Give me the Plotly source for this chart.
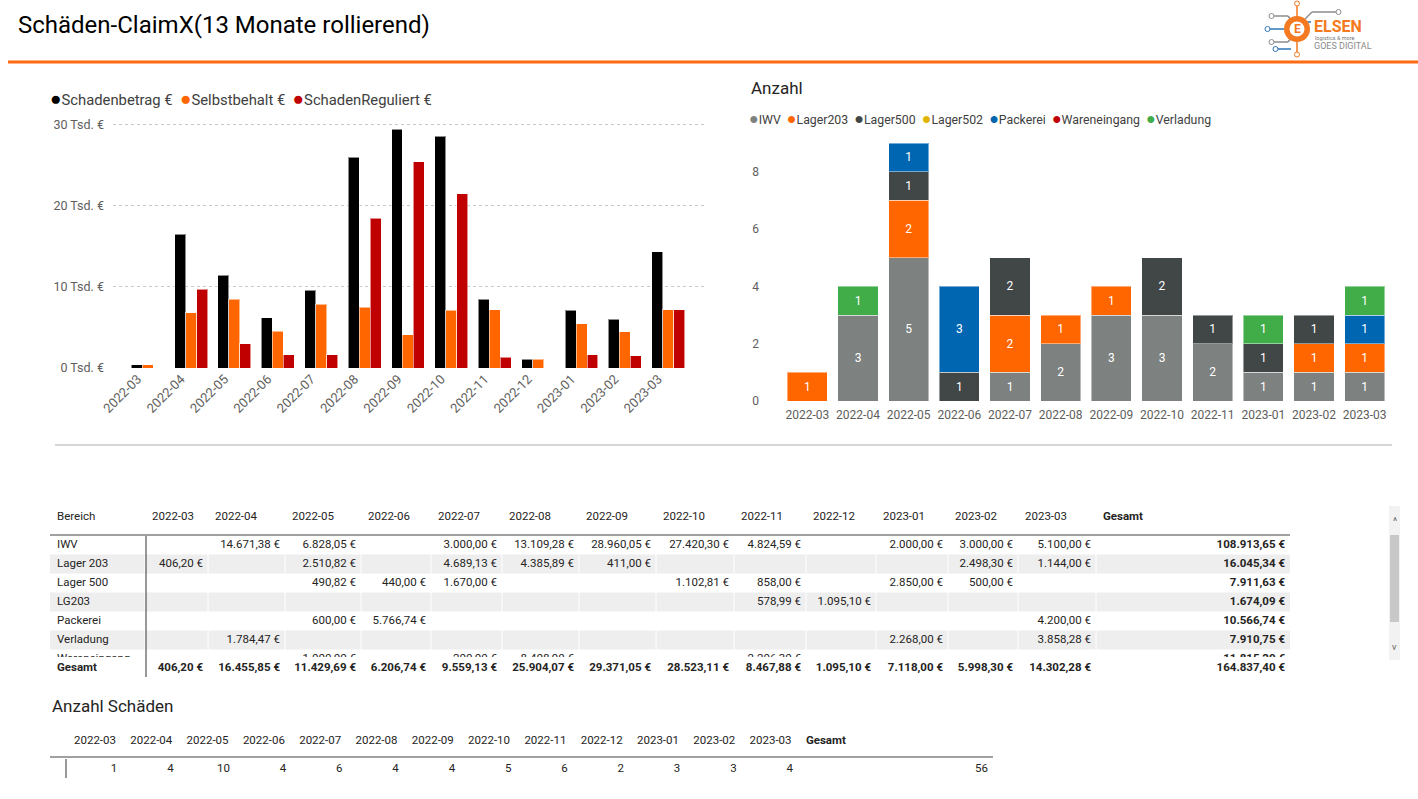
import plotly.graph_objects as go

# Seitengröße in Pixeln (Report-Seite)
W, H = 1418, 799


def X(px):
    # Pixel -> Papierkoordinate (horizontal)
    return px / W


def Y(py):
    # Pixel -> Papierkoordinate (vertikal, von oben gemessen)
    return 1 - py / H


# ---------------- Daten ----------------
monate = ["2022-03", "2022-04", "2022-05", "2022-06", "2022-07", "2022-08", "2022-09",
          "2022-10", "2022-11", "2022-12", "2023-01", "2023-02", "2023-03"]

# Balkendiagramm links (Euro)
schadenbetrag = [406.20, 16455.85, 11429.69, 6206.74, 9559.13, 25904.07, 29371.05,
                 28523.11, 8467.88, 1095.10, 7118.00, 5998.30, 14302.28]
selbstbehalt = [406.20, 6800, 8440, 4530, 7860, 7490, 4070,
                7080, 7160, 1095.10, 5470, 4490, 7160]
schaden_reguliert = [None, 9670, 2960, 1650, 1650, 18440, 25350,
                     21440, 1310, None, 1610, 1480, 7160]
serien_links = ["Schadenbetrag €", "Selbstbehalt €", "SchadenReguliert €"]
farben_links = ["#000000", "#FF6600", "#C00000"]
y_ticks_links = [0, 10000, 20000, 30000]
y_ticktext_links = ["0 Tsd. €", "10 Tsd. €", "20 Tsd. €", "30 Tsd. €"]

# Gestapeltes Diagramm rechts (Anzahl)
anzahl_monate = ["2022-03", "2022-04", "2022-05", "2022-06", "2022-07", "2022-08",
                 "2022-09", "2022-10", "2022-11", "2023-01", "2023-02", "2023-03"]
anz_iwv = [None, 3, 5, None, 1, 2, 3, 3, 2, 1, 1, 1]
anz_lager203 = [1, None, 2, None, 2, 1, 1, None, None, None, 1, 1]
anz_lager500 = [None, None, 1, 1, 2, None, None, 2, 1, 1, 1, None]
anz_lager502 = [None] * 12
anz_packerei = [None, None, 1, 3, None, None, None, None, None, None, None, 1]
anz_wareneingang = [None] * 12
anz_verladung = [None, 1, None, None, None, None, None, None, None, 1, None, 1]
serien_rechts = ["IWV", "Lager203", "Lager500", "Lager502", "Packerei", "Wareneingang", "Verladung"]
farben_rechts = ["#7D8180", "#FF6600", "#414646", "#E0B400", "#0066B2", "#C00000", "#41AD49"]
y_ticks_rechts = [0, 2, 4, 6, 8]

# Tabelle Schadenbeträge je Bereich
bereiche = ["IWV", "Lager 203", "Lager 500", "LG203", "Packerei", "Verladung", "Wareneingang"]
tab_iwv = [None, 14671.38, 6828.05, None, 3000.00, 13109.28, 28960.05, 27420.30, 4824.59,
           None, 2000.00, 3000.00, 5100.00]
tab_lager203 = [406.20, None, 2510.82, None, 4689.13, 4385.89, 411.00, None, None,
                None, None, 2498.30, 1144.00]
tab_lager500 = [None, None, 490.82, 440.00, 1670.00, None, None, 1102.81, 858.00,
                None, 2850.00, 500.00, None]
tab_lg203 = [None, None, None, None, None, None, None, None, 578.99,
             1095.10, None, None, None]
tab_packerei = [None, None, 600.00, 5766.74, None, None, None, None, None,
                None, None, None, 4200.00]
tab_verladung = [None, 1784.47, None, None, None, None, None, None, None,
                 None, 2268.00, None, 3858.28]
tab_wareneingang = [None, None, 1000.00, None, 200.00, 8408.90, None, None, 2206.30,
                    None, None, None, None]
zeilen_gesamt = [108913.65, 16045.34, 7911.63, 1674.09, 10566.74, 7910.75, 11815.20]
spalten_gesamt = [406.20, 16455.85, 11429.69, 6206.74, 9559.13, 25904.07, 29371.05,
                  28523.11, 8467.88, 1095.10, 7118.00, 5998.30, 14302.28]
gesamt_summe = 164837.40

# Tabelle Anzahl Schäden
anzahl_schaeden = [1, 4, 10, 4, 6, 4, 4, 5, 6, 2, 3, 3, 4]
anzahl_gesamt = 56


def eur(v):
    # deutsches Zahlenformat: 1.234,56 €
    if v is None:
        return ""
    s = f"{v:,.2f}".replace(",", "X").replace(".", ",").replace("X", ".")
    return s + " €"


def fett(s):
    return "<b>" + s + "</b>"


TXT = "#252423"
GRAU = "#605E5C"
FONT = "Roboto"

fig = go.Figure()

# ---------------- linkes Diagramm ----------------
for i, werte in enumerate([schadenbetrag, selbstbehalt, schaden_reguliert]):
    fig.add_trace(go.Bar(x=monate, y=werte, name=serien_links[i],
                         offsetgroup=str(i),
                         marker=dict(color=farben_links[i],
                                     line=dict(color="rgba(255,255,255,0.55)", width=1)),
                         showlegend=False, xaxis="x", yaxis="y"))

# ---------------- rechtes Diagramm ----------------
for i, werte in enumerate([anz_iwv, anz_lager203, anz_lager500, anz_lager502,
                           anz_packerei, anz_wareneingang, anz_verladung]):
    fig.add_trace(go.Bar(x=anzahl_monate, y=werte, name=serien_rechts[i],
                         offsetgroup="r", width=0.79,
                         marker=dict(color=farben_rechts[i],
                                     line=dict(color="rgba(255,255,255,0.45)", width=1)),
                         texttemplate="%{y}", textposition="inside",
                         insidetextanchor="middle", textangle=0,
                         textfont=dict(color="white", size=12, family=FONT),
                         showlegend=False, xaxis="x2", yaxis="y2"))

# ---------------- Tabelle Beträge (Textspuren auf eigenen Achsen) ----------------
# Spaltenkanten in Pixel ab linkem Tabellenrand, Zeilen in Zeileneinheiten
kanten = [0, 95, 158, 235, 311, 381, 452, 529, 606, 684, 756, 826, 898, 968, 1046, 1240]
PAD_L, PAD_R = 7, 5
zellfont = dict(family=FONT, size=11.5, color=TXT)
tab_zeilen = [tab_iwv, tab_lager203, tab_lager500, tab_lg203, tab_packerei,
              tab_verladung, tab_wareneingang]
n = len(bereiche)
zeilen_idx = list(range(n))


def text_spur(xs, ys, texte, pos, xa, ya):
    return go.Scatter(x=xs, y=ys, text=texte, mode="text", textposition=pos,
                      textfont=zellfont, cliponaxis=True, hoverinfo="skip",
                      showlegend=False, xaxis=xa, yaxis=ya)


# Kopfzeile (eigene y-Achse y5)
fig.add_trace(text_spur([kanten[j] + PAD_L for j in range(15)], [0] * 15,
                        ["Bereich"] + monate + [fett("Gesamt")], "middle right", "x3", "y5"))
# Zeilenbeschriftung
fig.add_trace(text_spur([kanten[0] + PAD_L] * n, zeilen_idx, bereiche, "middle right", "x3", "y3"))
# Monatswerte
for j in range(len(monate)):
    fig.add_trace(text_spur([kanten[j + 2] - PAD_R] * n, zeilen_idx,
                            [eur(z[j]) for z in tab_zeilen], "middle left", "x3", "y3"))
# Zeilensummen
fig.add_trace(text_spur([kanten[15] - PAD_R] * n, zeilen_idx,
                        [fett(eur(v)) for v in zeilen_gesamt], "middle left", "x3", "y3"))
# Summenzeile (eigene y-Achse y6)
fig.add_trace(text_spur([kanten[0] + PAD_L], [0], [fett("Gesamt")], "middle right", "x3", "y6"))
fig.add_trace(text_spur([kanten[j + 2] - PAD_R for j in range(14)], [0] * 14,
                        [fett(eur(v)) for v in spalten_gesamt + [gesamt_summe]],
                        "middle left", "x3", "y6"))

# ---------------- Tabelle Anzahl Schäden ----------------
kanten_anz = [0, 16] + [16 + 56.3 * (k + 1) for k in range(13)] + [943]
fig.add_trace(text_spur([kanten_anz[j + 1] + 8 for j in range(14)], [0] * 14,
                        monate + [fett("Gesamt")], "middle right", "x4", "y7"))
fig.add_trace(text_spur([kanten_anz[j + 2] - PAD_R for j in range(14)], [0] * 14,
                        [str(v) for v in anzahl_schaeden + [anzahl_gesamt]],
                        "middle left", "x4", "y4"))


def legende(namen, farben, groesse):
    teile = [f"<span style='color:{c};font-size:{groesse}px'>●</span>{nm}"
             for nm, c in zip(namen, farben)]
    return "\u00a0\u00a0".join(teile)


annos = [
    dict(text="Schäden-ClaimX(13 Monate rollierend)", x=X(16), y=Y(25),
         font=dict(size=24, color="#000000", family=FONT)),
    dict(text=legende(serien_links, farben_links, 19), x=X(48), y=Y(98),
         font=dict(size=14.8, color="#404040", family=FONT)),
    dict(text="Anzahl", x=X(749), y=Y(88), font=dict(size=17, color=TXT, family=FONT)),
    dict(text=legende(serien_rechts, farben_rechts, 16), x=X(747), y=Y(118),
         font=dict(size=12.3, color="#404040", family=FONT)),
    dict(text="Anzahl Schäden", x=X(50), y=Y(706), font=dict(size=17, color=TXT, family=FONT)),
    # Scrollbar-Pfeile
    dict(text="^", x=X(1394.5), y=Y(521), xanchor="center", font=dict(size=10, color="#666666")),
    dict(text="v", x=X(1394.5), y=Y(647), xanchor="center", font=dict(size=9, color="#666666")),
    # Logo-Texte
    dict(text="<b>E</b>", x=X(1297), y=Y(29), xanchor="center",
         font=dict(size=12, color="#F47920", family=FONT)),
    dict(text="<b>ELSEN</b>", x=X(1312), y=Y(27), font=dict(size=16, color="#F47920", family=FONT)),
    dict(text="logistics & more", x=X(1313), y=Y(38), font=dict(size=5.5, color="#777777", family=FONT)),
    dict(text="GOES DIGITAL", x=X(1312), y=Y(46), font=dict(size=9, color="#8A8A8A", family=FONT)),
]
for a in annos:
    a.setdefault("xanchor", "left")
    a.update(xref="paper", yref="paper", yanchor="middle", showarrow=False)


def linie(x0, y0, x1, y1, farbe, breite):
    return dict(type="line", xref="paper", yref="paper", x0=X(x0), y0=Y(y0), x1=X(x1), y1=Y(y1),
                line=dict(color=farbe, width=breite), layer="above")


def rechteck(x0, y0, x1, y1, farbe, typ="rect", rand=None):
    return dict(type=typ, xref="paper", yref="paper", x0=X(x0), y0=Y(y0), x1=X(x1), y1=Y(y1),
                fillcolor=farbe, line=dict(color=rand or farbe, width=1 if rand else 0),
                layer="above")


shapes = []
# Zebrastreifen und weiße Zellgrenzen der Tabelle (in Tabellenkoordinaten)
for k in zeilen_idx:
    if k % 2 == 1:
        shapes.append(dict(type="rect", xref="x3", yref="y3", x0=kanten[0], x1=kanten[-1],
                           y0=k - 0.5, y1=k + 0.5, fillcolor="#EEEEEE",
                           line=dict(width=0), layer="below"))
for e in kanten[1:-1]:
    shapes.append(dict(type="line", xref="x3", yref="y3", x0=e, x1=e, y0=-0.5, y1=n - 0.5,
                       line=dict(color="white", width=1), layer="below"))

shapes += [
    linie(8, 62, 1418, 62, "#FF6A13", 3),
    linie(55, 445, 1392, 445, "#C8C8C8", 1.5),
    linie(50, 535, 1290, 535, "#A0A0A0", 2),
    linie(146, 536, 146, 677, "#333333", 1),
    linie(50, 757, 993, 757, "#A0A0A0", 2),
    linie(66, 759, 66, 778, "#333333", 1),
    # Scrollbar
    rechteck(1389, 506, 1400, 660, "#F2F2F2"),
    rechteck(1390, 535, 1399, 622, "#C8C8C8"),
    # Logo: Leiterbahnen
    linie(1274, 16, 1288, 16, "#8C8C8C", 1.5),
    linie(1288, 16, 1291, 20, "#8C8C8C", 1.5),
    linie(1270, 29, 1284, 29, "#2E75B6", 1.5),
    linie(1274, 42, 1288, 42, "#8C8C8C", 1.5),
    linie(1288, 42, 1291, 38, "#8C8C8C", 1.5),
    linie(1278, 49, 1291, 49, "#2E75B6", 1.5),
    linie(1297, 4, 1297, 16, "#F47920", 1.5),
    linie(1297, 42, 1297, 54, "#F47920", 1.5),
    linie(1305, 19, 1312, 12, "#8C8C8C", 1.5),
    linie(1312, 12, 1336, 12, "#8C8C8C", 1.5),
    linie(1306, 22, 1311, 22, "#2E75B6", 1.5),
    rechteck(1269, 13.5, 1274, 18.5, "white", "circle", "#8C8C8C"),
    rechteck(1265, 26.5, 1270, 31.5, "white", "circle", "#2E75B6"),
    rechteck(1269, 39.5, 1274, 44.5, "white", "circle", "#8C8C8C"),
    rechteck(1273, 46.5, 1278, 51.5, "white", "circle", "#2E75B6"),
    rechteck(1294.5, 1, 1299.5, 6, "white", "circle", "#F47920"),
    rechteck(1294.5, 52, 1299.5, 57, "white", "circle", "#F47920"),
    rechteck(1336, 9.5, 1341, 14.5, "white", "circle", "#8C8C8C"),
    # Logo: Kreis mit E
    rechteck(1284, 16, 1310, 42, "#F47920", "circle"),
    rechteck(1289.5, 21.5, 1304.5, 36.5, "white", "circle"),
]

unsichtbar = dict(visible=False, showgrid=False, zeroline=False, automargin=False, fixedrange=True)

fig.update_layout(
    width=W, height=H, margin=dict(l=0, r=0, t=0, b=0, autoexpand=False),
    paper_bgcolor="white", plot_bgcolor="rgba(0,0,0,0)",
    barmode="stack", bargap=0.24, bargroupgap=0,
    showlegend=False,
    font=dict(family=FONT, color=TXT),
    xaxis=dict(domain=[X(113), X(706)], anchor="y", type="category", automargin=False,
               range=[-0.8, 12.87], tickangle=-45, showgrid=False, zeroline=False,
               showline=False, ticks="", ticklabelshift=-10,
               tickfont=dict(size=13, color=GRAU, family=FONT)),
    yaxis=dict(domain=[Y(368), Y(116)], anchor="x", range=[0, 31000], automargin=False,
               tickvals=y_ticks_links, ticktext=y_ticktext_links,
               showgrid=True, gridcolor="#C8C8C8", griddash="dot", gridwidth=1,
               zeroline=False, showline=False, ticks="", ticklabelstandoff=8,
               tickfont=dict(size=12.5, color=GRAU, family=FONT)),
    xaxis2=dict(domain=[X(782), X(1390)], anchor="y2", type="category", automargin=False,
                range=[-0.5, 11.5], tickangle=0, showgrid=False, zeroline=False,
                showline=False, ticks="", ticklabelstandoff=5,
                tickfont=dict(size=12, color=GRAU, family=FONT)),
    yaxis2=dict(domain=[Y(401), Y(140)], anchor="x2", range=[0, 9.11], automargin=False,
                tickvals=y_ticks_rechts, showgrid=False, zeroline=False, showline=False,
                ticks="", ticklabelstandoff=22, tickfont=dict(size=12, color=GRAU, family=FONT)),
    # Tabellenachsen: x in Pixeln ab Tabellenrand, y in Zeilen (19 px, erste Zeile bei 545 px)
    xaxis3=dict(domain=[X(50), X(1290)], anchor="y3", range=[0, 1240], **unsichtbar),
    yaxis3=dict(domain=[Y(657), Y(536)], anchor="x3",
                range=[(657 - 545) / 19, (536 - 545) / 19], **unsichtbar),
    yaxis5=dict(domain=[Y(527), Y(507)], anchor="x3", range=[0.5, -0.5], **unsichtbar),
    yaxis6=dict(domain=[Y(678), Y(658)], anchor="x3", range=[0.5, -0.5], **unsichtbar),
    xaxis4=dict(domain=[X(50), X(993)], anchor="y4", range=[0, 943], **unsichtbar),
    yaxis4=dict(domain=[Y(779), Y(759)], anchor="x4", range=[0.5, -0.5], **unsichtbar),
    yaxis7=dict(domain=[Y(751), Y(731)], anchor="x4", range=[0.5, -0.5], **unsichtbar),
    annotations=annos,
    shapes=shapes,
)

fig.write_html("out.html", config={"displayModeBar": False},
               post_script="document.body.style.margin='0';document.body.style.overflow='hidden';")
